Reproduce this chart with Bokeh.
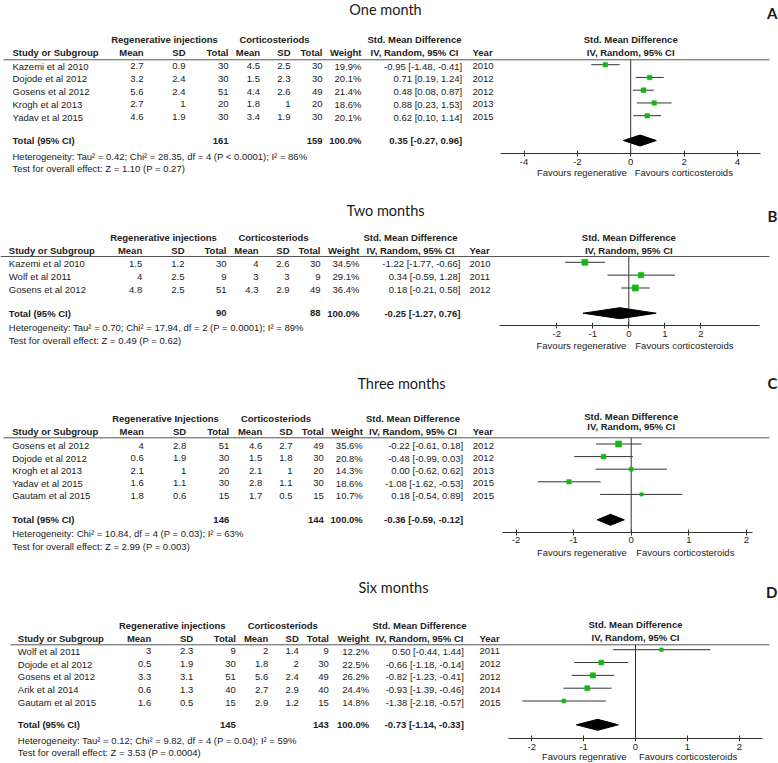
import math
from bokeh.plotting import figure
from bokeh.models import Range1d, LinearAxis, FixedTicker
from bokeh.core.properties import value
from bokeh.embed import file_html
from bokeh.resources import INLINE

# ================= DATA =================
panel_titles = ["One month", "Two months", "Three months", "Six months"]
panel_letters = ["A", "B", "C", "D"]
regen_labels = ["Regenerative injections", "Regenerative injections",
                "Regenerative Injections", "Regenerative injections"]
cort_label = "Corticosteriods"
favour_left_labels = ["Favours regenerative", "Favours regenerative",
                      "Favours regenerative", "Favours regenrative"]
favour_right_label = "Favours corticosteroids"

# --- A: one month ---
a_study = ["Kazemi et al 2010", "Dojode et al 2012", "Gosens et al 2012", "Krogh et al 2013", "Yadav et al 2015"]
a_r_mean = [2.7, 3.2, 5.6, 2.7, 4.6]
a_r_sd = [0.9, 2.4, 2.4, 1, 1.9]
a_r_n = [30, 30, 51, 20, 30]
a_c_mean = [4.5, 1.5, 4.4, 1.8, 3.4]
a_c_sd = [2.5, 2.3, 2.6, 1, 1.9]
a_c_n = [30, 30, 49, 20, 30]
a_weight = [19.9, 20.1, 21.4, 18.6, 20.1]
a_smd = [-0.95, 0.71, 0.48, 0.88, 0.62]
a_lo = [-1.48, 0.19, 0.08, 0.23, 0.10]
a_hi = [-0.41, 1.24, 0.87, 1.53, 1.14]
a_year = [2010, 2012, 2012, 2013, 2015]
a_total = [161, 159, 100.0]
a_pooled = [0.35, -0.27, 0.96]
a_het = "Heterogeneity: Tau\u00b2 = 0.42; Chi\u00b2 = 28.35, df = 4 (P < 0.0001); I\u00b2 = 86%"
a_test = "Test for overall effect: Z = 1.10 (P = 0.27)"
a_ticks = [-4, -2, 0, 2, 4]

# --- B: two months ---
b_study = ["Kazemi et al 2010", "Wolf et al 2011", "Gosens et al 2012"]
b_r_mean = [1.5, 4, 4.8]
b_r_sd = [1.2, 2.5, 2.5]
b_r_n = [30, 9, 51]
b_c_mean = [4, 3, 4.3]
b_c_sd = [2.6, 3, 2.9]
b_c_n = [30, 9, 49]
b_weight = [34.5, 29.1, 36.4]
b_smd = [-1.22, 0.34, 0.18]
b_lo = [-1.77, -0.59, -0.21]
b_hi = [-0.66, 1.28, 0.58]
b_year = [2010, 2011, 2012]
b_total = [90, 88, 100.0]
b_pooled = [-0.25, -1.27, 0.76]
b_het = "Heterogeneity: Tau\u00b2 = 0.70; Chi\u00b2 = 17.94, df = 2 (P = 0.0001); I\u00b2 = 89%"
b_test = "Test for overall effect: Z = 0.49 (P = 0.62)"
b_ticks = [-2, -1, 0, 1, 2]

# --- C: three months ---
c_study = ["Gosens et al 2012", "Dojode et al 2012", "Krogh et al 2013", "Yadav et al 2015", "Gautam et al 2015"]
c_r_mean = [4, 0.6, 2.1, 1.6, 1.8]
c_r_sd = [2.8, 1.9, 1, 1.1, 0.6]
c_r_n = [51, 30, 20, 30, 15]
c_c_mean = [4.6, 1.5, 2.1, 2.8, 1.7]
c_c_sd = [2.7, 1.8, 1, 1.1, 0.5]
c_c_n = [49, 30, 20, 30, 15]
c_weight = [35.6, 20.8, 14.3, 18.6, 10.7]
c_smd = [-0.22, -0.48, 0.00, -1.08, 0.18]
c_lo = [-0.61, -0.99, -0.62, -1.62, -0.54]
c_hi = [0.18, 0.03, 0.62, -0.53, 0.89]
c_year = [2012, 2012, 2013, 2015, 2015]
c_total = [146, 144, 100.0]
c_pooled = [-0.36, -0.59, -0.12]
c_het = "Heterogeneity: Chi\u00b2 = 10.84, df = 4 (P = 0.03); I\u00b2 = 63%"
c_test = "Test for overall effect: Z = 2.99 (P = 0.003)"
c_ticks = [-2, -1, 0, 1, 2]

# --- D: six months ---
d_study = ["Wolf et al 2011", "Dojode et al 2012", "Gosens et al 2012", "Arik et al 2014", "Gautam et al 2015"]
d_r_mean = [3, 0.5, 3.3, 0.6, 1.6]
d_r_sd = [2.3, 1.9, 3.1, 1.3, 0.5]
d_r_n = [9, 30, 51, 40, 15]
d_c_mean = [2, 1.8, 5.6, 2.7, 2.9]
d_c_sd = [1.4, 2, 2.4, 2.9, 1.2]
d_c_n = [9, 30, 49, 40, 15]
d_weight = [12.2, 22.5, 26.2, 24.4, 14.8]
d_smd = [0.50, -0.66, -0.82, -0.93, -1.38]
d_lo = [-0.44, -1.18, -1.23, -1.39, -2.18]
d_hi = [1.44, -0.14, -0.41, -0.46, -0.57]
d_year = [2011, 2012, 2012, 2014, 2015]
d_total = [145, 143, 100.0]
d_pooled = [-0.73, -1.14, -0.33]
d_het = "Heterogeneity: Tau\u00b2 = 0.12; Chi\u00b2 = 9.82, df = 4 (P = 0.04); I\u00b2 = 59%"
d_test = "Test for overall effect: Z = 3.53 (P = 0.0004)"
d_ticks = [-2, -1, 0, 1, 2]

data = [
    dict(study=a_study, rm=a_r_mean, rs=a_r_sd, rn=a_r_n, cm=a_c_mean, cs=a_c_sd, cn=a_c_n,
         w=a_weight, smd=a_smd, lo=a_lo, hi=a_hi, year=a_year, total=a_total, pooled=a_pooled,
         het=a_het, test=a_test, ticks=a_ticks),
    dict(study=b_study, rm=b_r_mean, rs=b_r_sd, rn=b_r_n, cm=b_c_mean, cs=b_c_sd, cn=b_c_n,
         w=b_weight, smd=b_smd, lo=b_lo, hi=b_hi, year=b_year, total=b_total, pooled=b_pooled,
         het=b_het, test=b_test, ticks=b_ticks),
    dict(study=c_study, rm=c_r_mean, rs=c_r_sd, rn=c_r_n, cm=c_c_mean, cs=c_c_sd, cn=c_c_n,
         w=c_weight, smd=c_smd, lo=c_lo, hi=c_hi, year=c_year, total=c_total, pooled=c_pooled,
         het=c_het, test=c_test, ticks=c_ticks),
    dict(study=d_study, rm=d_r_mean, rs=d_r_sd, rn=d_r_n, cm=d_c_mean, cs=d_c_sd, cn=d_c_n,
         w=d_weight, smd=d_smd, lo=d_lo, hi=d_hi, year=d_year, total=d_total, pooled=d_pooled,
         het=d_het, test=d_test, ticks=d_ticks),
]

# ================= LAYOUT (page pixel positions, visual text centres) =================
layouts = [
    dict(title=(385, 8.5), letter=12, gh=39, ch=52, line=59.3, line_x0=3, row0=65.7, dy=12.75,
         tot=140, het=155.7, test=168.3, study=12, m1=143, s1=185, t1=228, m2=259.5, s2=290,
         t2=322, wt=361, ci=461.7, year=472, regen_c=164, cort_c=274, cih=414,
         fh1=39, fh2=52, axis=153.3, fav=171.7, zero=630.2, unit=26.67, bounds=(-4.87, 4.87),
         foff=(-4, 4)),
    dict(title=(385, 210), letter=215.3, gh=236.7, ch=250, line=256, line_x0=0, row0=263.3, dy=12.85,
         tot=312.7, het=327.3, test=340, study=8.3, m1=141.7, s1=184, t1=226, m2=258, s2=289,
         t2=320, wt=359, ci=460, year=469, regen_c=163, cort_c=273, cih=410,
         fh1=236.7, fh2=250, axis=325, fav=345, zero=628.3, unit=36.0, bounds=(-3.59, 3.63),
         foff=(-2.5, 6.5)),
    dict(title=(401, 382.5), letter=382.5, gh=418.3, ch=431, line=437.3, line_x0=3, row0=445, dy=12.6,
         tot=519.3, het=533.3, test=546, study=11.7, m1=143.3, s1=185.7, t1=228.7, m2=261.7, s2=292,
         t2=323.3, wt=362.3, ci=462.7, year=472.3, regen_c=165, cort_c=275.5, cih=412.5,
         fh1=415.7, fh2=426, axis=531.7, fav=551.7, zero=630.7, unit=57.6, bounds=(-2.23, 2.11),
         foff=(-4.5, 5)),
    dict(title=(393, 586.7), letter=591.7, gh=625, ch=637.7, line=644.3, line_x0=10, row0=650.7, dy=12.83,
         tot=724.3, het=740, test=752.3, study=17.3, m1=150.7, s1=192.7, t1=235.3, m2=267.7, s2=298.3,
         t2=328.3, wt=368.7, ci=463.3, year=479, regen_c=171.7, cort_c=282.3, cih=419,
         fh1=624, fh2=637.3, axis=738.3, fav=756, zero=635, unit=51.9, bounds=(-2.45, 2.45),
         foff=(-9, 3.5)),
]

W, H = 778, 763
X0, X1 = 0, 778
Y0, Y1 = 763, 0
FONT = "Liberation Sans"
FS = "9.5px"
TXT = "#222222"
GREEN = "#12B812"

ranges = {}
for k, L in zip(panel_letters, layouts):
    ranges[k] = Range1d((X0 - L["zero"]) / L["unit"], (X1 - L["zero"]) / L["unit"])

p = figure(width=W, height=H, x_range=Range1d(X0, X1), y_range=Range1d(Y0, Y1),
           output_backend="svg", toolbar_location=None, tools="",
           x_axis_location=None, y_axis_location=None, min_border=0,
           outline_line_color=None, background_fill_color="white", border_fill_color="white")
p.extra_x_ranges = ranges
p.grid.visible = False

T = dict(x=[], y=[], text=[], align=[], style=[])


def put(x, y, s, align="left", bold=False):
    T["x"].append(x)
    T["y"].append(y)
    T["text"].append(s)
    T["align"].append(align)
    T["style"].append("bold" if bold else "normal")


def num(v):
    return f"{v:g}"


def ci_text(e, lo, hi):
    return f"{e:.2f} [{lo:.2f}, {hi:.2f}]"


titles_x, titles_y, titles_t = [], [], []
let_y = []

for k, d, L, title, regen, favl in zip(panel_letters, data, layouts, panel_titles, regen_labels, favour_left_labels):
    titles_x.append(L["title"][0]); titles_y.append(L["title"][1]); titles_t.append(title)
    let_y.append(L["letter"])

    # headers
    put(L["regen_c"], L["gh"], regen, "center", True)
    put(L["cort_c"], L["gh"], cort_label, "center", True)
    put(L["cih"], L["gh"], "Std. Mean Difference", "center", True)
    put(L["study"], L["ch"], "Study or Subgroup", "left", True)
    put(L["m1"], L["ch"], "Mean", "right", True)
    put(L["s1"], L["ch"], "SD", "right", True)
    put(L["t1"], L["ch"], "Total", "right", True)
    put(L["m2"], L["ch"], "Mean", "right", True)
    put(L["s2"], L["ch"], "SD", "right", True)
    put(L["t2"], L["ch"], "Total", "right", True)
    put(L["wt"], L["ch"], "Weight", "right", True)
    put(L["cih"], L["ch"], "IV, Random, 95% CI", "center", True)
    put(L["year"], L["ch"], "Year", "left", True)

    ys = [L["row0"] + i * L["dy"] for i in range(len(d["study"]))]
    for i, y in enumerate(ys):
        put(L["study"], y, d["study"][i])
        put(L["m1"], y, num(d["rm"][i]), "right")
        put(L["s1"], y, num(d["rs"][i]), "right")
        put(L["t1"], y, num(d["rn"][i]), "right")
        put(L["m2"], y, num(d["cm"][i]), "right")
        put(L["s2"], y, num(d["cs"][i]), "right")
        put(L["t2"], y, num(d["cn"][i]), "right")
        put(L["wt"], y, f"{d['w'][i]:.1f}%", "right")
        put(L["ci"], y, ci_text(d["smd"][i], d["lo"][i], d["hi"][i]), "right")
        put(L["year"], y, str(d["year"][i]))

    put(L["study"], L["tot"], "Total (95% CI)", "left", True)
    put(L["t1"], L["tot"], str(d["total"][0]), "right", True)
    put(L["t2"], L["tot"], str(d["total"][1]), "right", True)
    put(L["wt"], L["tot"], f"{d['total'][2]:.1f}%", "right", True)
    put(L["ci"], L["tot"], ci_text(*d["pooled"]), "right", True)
    put(L["study"], L["het"], d["het"])
    put(L["study"], L["test"], d["test"])

    # header rule
    p.segment(x0=[L["line_x0"]], x1=[769], y0=[L["line"]], y1=[L["line"]],
              line_color="#555555", line_width=1)

    # forest plot in its own SMD scale
    ym = [y - 1.5 for y in ys]
    p.segment(x0=[0], x1=[0], y0=[L["line"]], y1=[L["axis"]], x_range_name=k,
              line_color="#333333", line_width=1)
    p.segment(x0=d["lo"], x1=d["hi"], y0=ym, y1=ym, x_range_name=k,
              line_color="#333333", line_width=1)
    p.scatter(x=d["smd"], y=ym, marker="square", size=[1.03 * math.sqrt(w) for w in d["w"]],
              fill_color=GREEN, line_color=GREEN, line_width=0.5, x_range_name=k)
    e, lo, hi = d["pooled"]
    yt = L["tot"]
    p.patch(x=[lo, e, hi, e], y=[yt, yt - 5.5, yt, yt + 5.5], x_range_name=k,
            fill_color="black", line_color="black")

    p.text(x=[0, 0], y=[L["fh1"], L["fh2"]],
           text=["Std. Mean Difference", "IV, Random, 95% CI"], x_range_name=k,
           text_align="center", text_baseline="middle", text_font=value(FONT),
           text_font_size=FS, text_font_style="bold", text_color=TXT)
    p.text(x=[0], y=[L["fav"]], text=[favl], x_range_name=k, x_offset=L["foff"][0],
           text_align="right", text_baseline="middle", text_font=value(FONT),
           text_font_size=FS, text_color=TXT)
    p.text(x=[0], y=[L["fav"]], text=[favour_right_label], x_range_name=k, x_offset=L["foff"][1],
           text_align="left", text_baseline="middle", text_font=value(FONT),
           text_font_size=FS, text_color=TXT)

    ax = LinearAxis(x_range_name=k, fixed_location=L["axis"], bounds=L["bounds"],
                    ticker=FixedTicker(ticks=d["ticks"]),
                    major_label_overrides={t: str(t) for t in d["ticks"]})
    ax.axis_line_color = "#333333"
    ax.major_tick_line_color = "#333333"
    ax.minor_tick_line_color = None
    ax.major_tick_in = 3
    ax.major_tick_out = 3
    ax.major_label_standoff = 2
    ax.major_label_text_font = FONT
    ax.major_label_text_font_size = FS
    ax.major_label_text_color = TXT
    p.add_layout(ax, "below")

p.text(x="x", y="y", text="text", source=T, text_align="align", text_font_style="style",
       text_baseline="middle", text_font=value(FONT), text_font_size=FS, text_color=TXT)

p.text(x=titles_x, y=titles_y, text=titles_t, text_align="center", text_baseline="middle",
       text_font=value("Lato"), text_font_size="14.5px", text_color="#1a1a1a")
p.text(x=[777] * 4, y=let_y, text=panel_letters, text_align="right", text_baseline="middle",
       text_font=value("Lato"), text_font_size="15px", text_font_style="bold", text_color="#1a1a1a")

open("out.html", "w").write(file_html(p, INLINE))
